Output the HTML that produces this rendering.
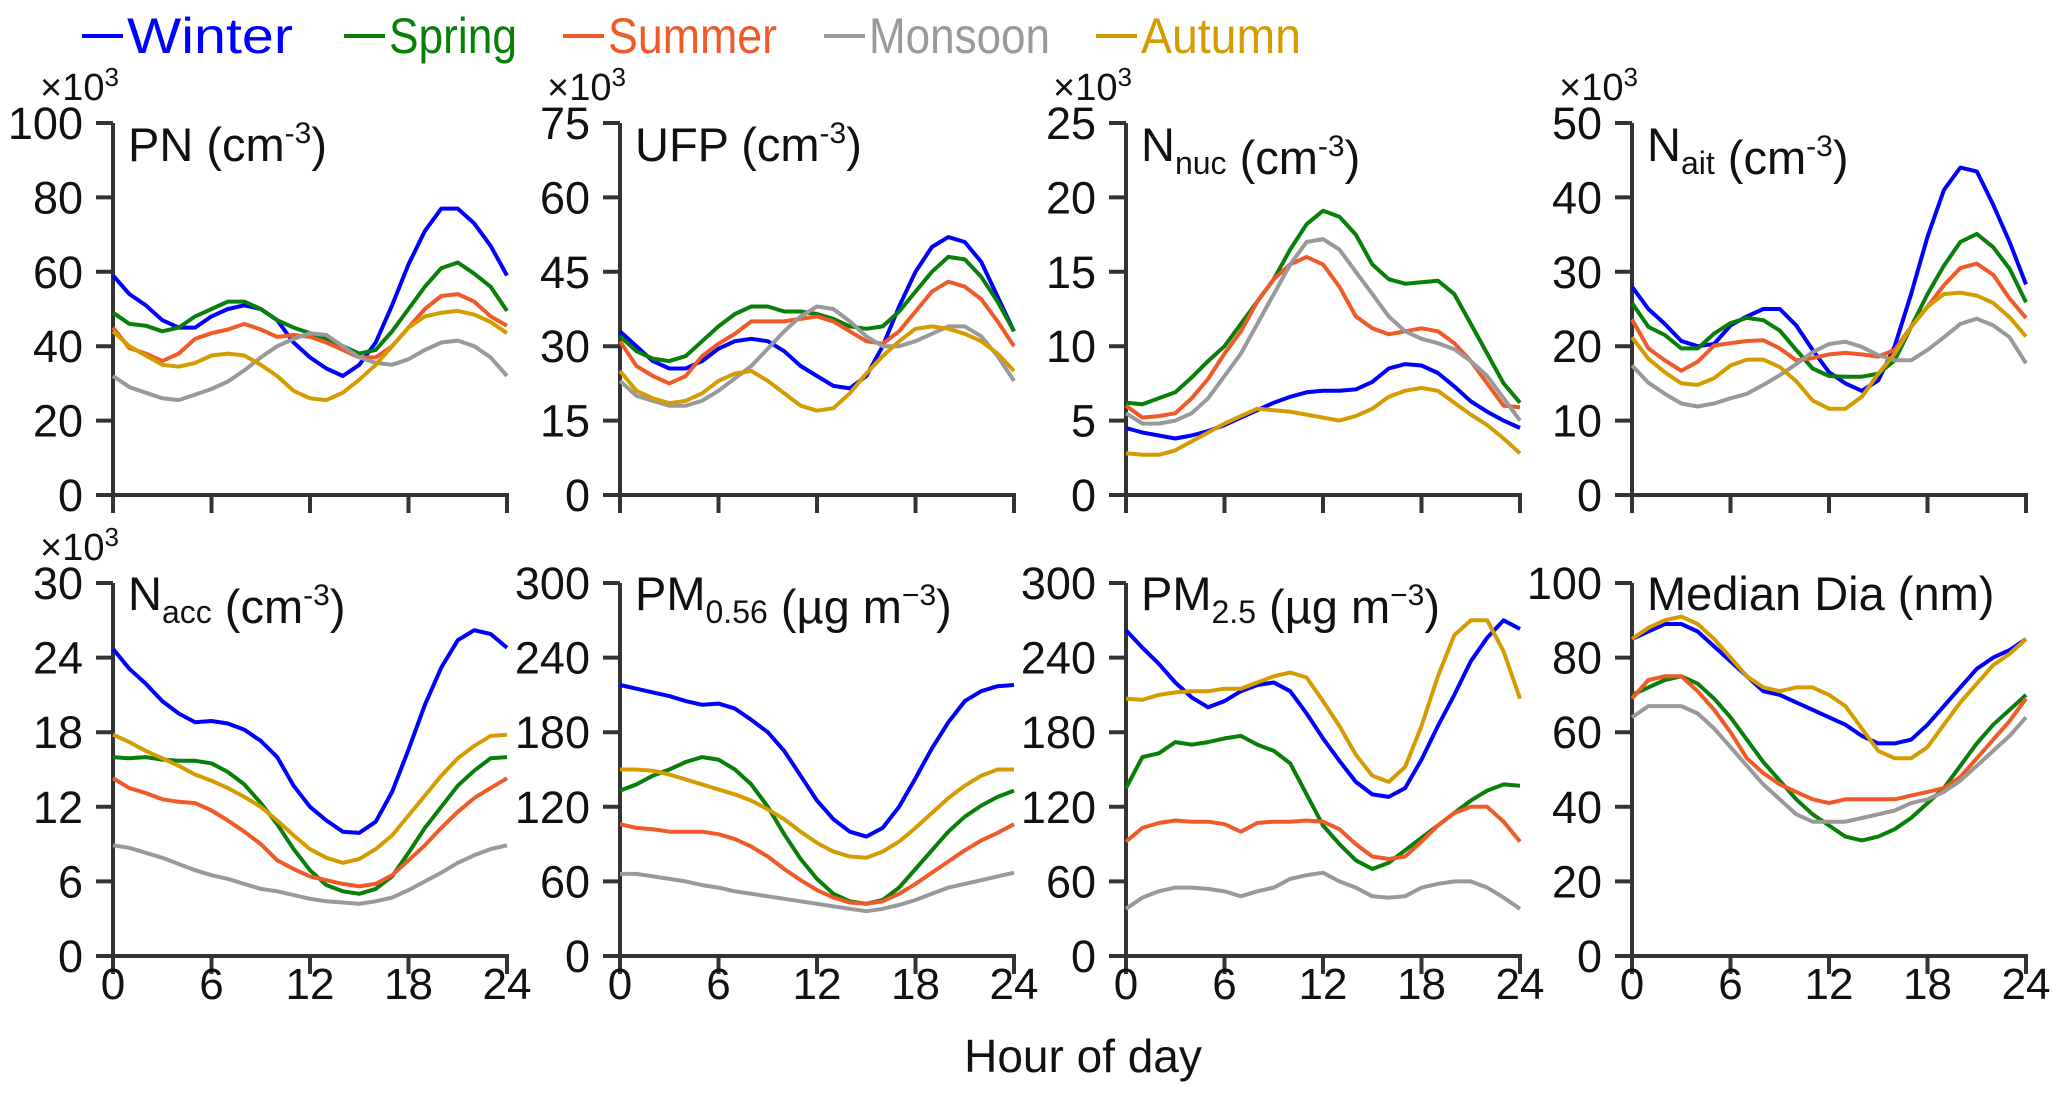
<!DOCTYPE html>
<html><head><meta charset="utf-8">
<style>
html,body{margin:0;padding:0;background:#fff;}
svg{display:block;font-family:"Liberation Sans",Arial,sans-serif;}
</style></head>
<body>
<svg id="chart" width="2067" height="1097" viewBox="0 0 2067 1097" xmlns="http://www.w3.org/2000/svg"></svg>
<script>
const hours = [0,1,2,3,4,5,6,7,8,9,10,11,12,13,14,15,16,17,18,19,20,21,22,23,24];
const seasons = ["Winter","Spring","Summer","Monsoon","Autumn"];
const seasonColors = ["#0000ff","#087f08","#f05a28","#999999","#d49c00"];
const xTicks = [0,6,12,18,24];

const pnWinter = [59,54,51,47,45,45,48,50,51,50,47,41,37,34,32,35,41,51,62,71,77,77,73,67,59];
const pnSpring = [49,46,45.5,44,45,48,50,52,52,50,47,45,43.5,42,40,38,39,44,50,56,61,62.5,59.5,56,49.5];
const pnSummer = [45,39.5,38,36,38,42,43.5,44.5,46,44.5,42.5,43,42.5,41,39,37,37,40,45,50,53.5,54,52,48,45.5];
const pnMonsoon = [32,29,27.5,26,25.5,27,28.5,30.5,33.5,37,40,42,43.5,43,40,37,35.5,35,36.5,39,41,41.5,40,37,32];
const pnAutumn = [44,40,37.5,35,34.5,35.5,37.5,38,37.5,35,32,28,26,25.5,27.5,31,35,40,45,48,49,49.5,48.5,46.5,43.5];

const ufpWinter = [33,30,27,25.5,25.5,27,29.5,31,31.5,31,29,26,24,22,21.5,24,30,38,45,50,52,51,47,40,33];
const ufpSpring = [32,29,27.5,27,28,31,34,36.5,38,38,37,37,36.5,35.5,34,33.5,34,37,41,45,48,47.5,44,39,33];
const ufpSummer = [31,26,24,22.5,24,28,30.5,32.5,35,35,35,35.5,36,35,33,31,30.5,33,37,41,43,42,39.5,35,30];
const ufpMonsoon = [23,20,19,18,18,19,21,23.5,26,29.5,33,36,38,37.5,35,32,30,30,31,32.5,34,34,32,28,23];
const ufpAutumn = [25,21,19.5,18.5,19,20.5,23,24.5,25,23,20.5,18,17,17.5,20.5,24.5,28,31,33.5,34,33.5,32.5,31,28.5,25];

const nucWinter = [4.5,4.2,4,3.8,4,4.3,4.7,5.2,5.7,6.2,6.6,6.9,7,7,7.1,7.6,8.5,8.8,8.7,8.2,7.3,6.3,5.6,5,4.5];
const nucSpring = [6.2,6.1,6.5,6.9,7.9,9,10,11.5,13,14.5,16.5,18.2,19.1,18.7,17.5,15.5,14.5,14.2,14.3,14.4,13.5,11.5,9.5,7.5,6.2];
const nucSummer = [6,5.2,5.3,5.5,6.5,7.8,9.5,11,13,14.5,15.5,16,15.5,14,12,11.2,10.8,11,11.2,11,10.2,9,7.5,6,5.9];
const nucMonsoon = [5.5,4.8,4.8,5,5.5,6.5,8,9.5,11.5,13.5,15.5,17,17.2,16.5,15,13.5,12,11,10.5,10.2,9.8,9,8,6.5,5];
const nucAutumn = [2.8,2.7,2.7,3,3.6,4.2,4.8,5.3,5.8,5.7,5.6,5.4,5.2,5,5.3,5.8,6.6,7,7.2,7,6.2,5.4,4.7,3.8,2.8];

const aitWinter = [28,25,23,20.7,20,20.3,22.8,24,25,25,22.8,19.5,16.5,15,14,15.4,20,27,34.7,41,44,43.5,39,34,28.3];
const aitSpring = [25.8,22.6,21.5,19.7,19.7,21.7,23.1,23.8,23.5,22.1,19.5,17,16,15.9,15.9,16.3,18.1,22.6,27,30.8,34,35.1,33.3,30.4,25.9];
const aitSummer = [23.6,19.7,18.1,16.7,17.9,20.1,20.4,20.7,20.8,19.7,18.1,18.4,18.9,19.1,18.9,18.6,19.5,22.6,25.3,28.2,30.5,31.1,29.6,26.4,23.8];
const aitMonsoon = [17.4,15.1,13.6,12.3,11.9,12.3,13,13.6,14.8,16.1,17.6,19.2,20.3,20.6,19.9,18.8,18.1,18.1,19.5,21.2,23,23.7,22.8,21.2,17.7];
const aitAutumn = [21.2,18.3,16.5,15,14.8,15.7,17.4,18.2,18.2,17.2,15.3,12.7,11.6,11.6,13.2,16.3,19,22.6,25.3,27,27.2,26.8,25.8,23.9,21.3];

const accWinter = [24.7,23.1,21.9,20.5,19.5,18.8,18.9,18.7,18.2,17.3,16,13.7,12,10.9,10,9.9,10.8,13.2,16.6,20.2,23.2,25.4,26.2,25.9,24.8];
const accSpring = [16,15.9,16,15.8,15.7,15.7,15.5,14.8,13.8,12.3,10.6,8.6,6.9,5.7,5.2,5,5.4,6.4,8.3,10.3,12,13.7,14.9,15.9,16];
const accSummer = [14.3,13.5,13.1,12.6,12.4,12.3,11.7,10.9,10,9,7.7,7,6.4,6.1,5.8,5.6,5.8,6.5,7.7,8.9,10.3,11.6,12.7,13.5,14.3];
const accMonsoon = [8.9,8.7,8.3,7.9,7.4,6.9,6.5,6.2,5.8,5.4,5.2,4.9,4.6,4.4,4.3,4.2,4.4,4.7,5.3,6,6.7,7.5,8.1,8.6,8.9];
const accAutumn = [17.8,17.2,16.5,15.9,15.3,14.6,14.1,13.5,12.8,12,10.9,9.7,8.6,7.9,7.5,7.8,8.6,9.7,11.3,12.9,14.5,15.9,16.9,17.7,17.8];

const pm056Winter = [218,215,212,209,205,202,203,199,190,180,165,145,125,110,100,96,103,120,143,167,188,205,213,217,218];
const pm056Spring = [133,138,145,150,156,160,158,150,138,120,98,78,62,50,44,42,45,55,70,85,100,112,121,128,133];
const pm056Summer = [106,103,102,100,100,100,98,94,88,80,70,61,53,47,43,42,44,50,58,67,76,85,93,99,106];
const pm056Monsoon = [66,66,64,62,60,57,55,52,50,48,46,44,42,40,38,36,38,41,45,50,55,58,61,64,67];
const pm056Autumn = [150,150,149,146,142,138,134,130,125,118,110,100,91,84,80,79,84,92,103,115,127,137,145,150,150];

const pm25Winter = [262,248,235,220,208,200,205,213,218,220,213,195,175,157,140,130,128,135,158,185,210,237,256,270,263];
const pm25Spring = [135,160,163,172,170,172,175,177,170,165,155,130,105,90,77,70,75,85,95,105,115,125,133,138,137];
const pm25Summer = [92,103,107,109,108,108,106,100,107,108,108,109,108,102,90,80,78,80,92,105,115,120,120,108,92];
const pm25Monsoon = [38,47,52,55,55,54,52,48,52,55,62,65,67,60,55,48,47,48,55,58,60,60,55,47,38];
const pm25Autumn = [207,206,210,212,213,213,215,215,220,225,228,224,205,185,162,145,140,152,185,225,258,270,270,245,207];

const diaWinter = [85,87,89,89,87,83,79,75,71,70,68,66,64,62,59,57,57,58,62,67,72,77,80,82,85];
const diaSpring = [70,72,74,75,73,69,64,58,52,47,42,38,35,32,31,32,34,37,41,45,51,57,62,66,70];
const diaSummer = [69,74,75,75,71,66,60,53,49,46,44,42,41,42,42,42,42,43,44,45,48,53,58,63,69];
const diaMonsoon = [64,67,67,67,65,61,56,51,46,42,38,36,36,36,37,38,39,41,42,44,47,51,55,59,64];
const diaAutumn = [85,88,90,91,89,85,80,75,72,71,72,72,70,67,61,55,53,53,56,62,68,73,78,81,85];

const yTicksPN = [0,20,40,60,80,100];
const yTicksUFP = [0,15,30,45,60,75];
const yTicksNuc = [0,5,10,15,20,25];
const yTicksAit = [0,10,20,30,40,50];
const yTicksAcc = [0,6,12,18,24,30];
const yTicksPM = [0,60,120,180,240,300];
const yTicksDia = [0,20,40,60,80,100];

const NS = "http://www.w3.org/2000/svg";
const svg = document.getElementById("chart");
function mk(tag, attrs, parent){
  const e = document.createElementNS(NS, tag);
  for (const k in attrs) e.setAttribute(k, attrs[k]);
  (parent||svg).appendChild(e);
  return e;
}

// legend
const legTextX = [127,389,608,869,1141];
const legTextW = [166,128,169,181,160];
seasons.forEach((s,i)=>{
  const g = mk("g",{});
  
  
  mk("line",{x1:legTextX[i]-45,y1:36,x2:legTextX[i]-4,y2:36,stroke:seasonColors[i],"stroke-width":4},g);
  const t = mk("text",{x:legTextX[i],y:53,"font-size":50,fill:seasonColors[i],textLength:legTextW[i],lengthAdjust:"spacingAndGlyphs"},g);
  t.textContent = s;
});

const panels = [
  {name:"pn", x:113, top:123, bot:495, ticks:yTicksPN, series:[pnWinter,pnSpring,pnSummer,pnMonsoon,pnAutumn], title:["PN ","","(cm","-3",")"], exp:true, xlabels:false},
  {name:"ufp", x:620, top:123, bot:495, ticks:yTicksUFP, series:[ufpWinter,ufpSpring,ufpSummer,ufpMonsoon,ufpAutumn], title:["UFP ","","(cm","-3",")"], exp:true, xlabels:false},
  {name:"nnuc", x:1126, top:123, bot:495, ticks:yTicksNuc, series:[nucWinter,nucSpring,nucSummer,nucMonsoon,nucAutumn], title:["N","nuc"," (cm","-3",")"], exp:true, xlabels:false},
  {name:"nait", x:1632, top:123, bot:495, ticks:yTicksAit, series:[aitWinter,aitSpring,aitSummer,aitMonsoon,aitAutumn], title:["N","ait"," (cm","-3",")"], exp:true, xlabels:false},
  {name:"nacc", x:113, top:583, bot:956, ticks:yTicksAcc, series:[accWinter,accSpring,accSummer,accMonsoon,accAutumn], title:["N","acc"," (cm","-3",")"], exp:true, xlabels:true},
  {name:"pm056", x:620, top:583, bot:956, ticks:yTicksPM, series:[pm056Winter,pm056Spring,pm056Summer,pm056Monsoon,pm056Autumn], title:["PM","0.56"," (µg m","−3",")"], exp:false, xlabels:true},
  {name:"pm25", x:1126, top:583, bot:956, ticks:yTicksPM, series:[pm25Winter,pm25Spring,pm25Summer,pm25Monsoon,pm25Autumn], title:["PM","2.5"," (µg m","−3",")"], exp:false, xlabels:true},
  {name:"median-dia", x:1632, top:583, bot:956, ticks:yTicksDia, series:[diaWinter,diaSpring,diaSummer,diaMonsoon,diaAutumn], title:["Median Dia (nm)","","","",""], exp:false, xlabels:true}
];
const W = 394;
const AX = "#333";

panels.forEach(p=>{
  const g = mk("g",{});
  
  
  const ymax = p.ticks[p.ticks.length-1];
  const xs = h => p.x + h/24*W;
  const ys = v => p.bot - v/ymax*(p.bot-p.top);
  const ya = mk("line",{x1:p.x,y1:p.top,x2:p.x,y2:p.bot+18,stroke:AX,"stroke-width":4},g);
  
  
  const xa = mk("line",{x1:p.x-17,y1:p.bot,x2:p.x+W+2,y2:p.bot,stroke:AX,"stroke-width":4},g);
  
  
  p.ticks.forEach(v=>{
    mk("line",{x1:p.x-17,y1:ys(v),x2:p.x,y2:ys(v),stroke:AX,"stroke-width":4},g);
    const t = mk("text",{x:p.x-30,y:ys(v)+16,"font-size":45,"text-anchor":"end",fill:"#111"},g);
    
    
    t.textContent = v;
  });
  xTicks.forEach(h=>{
    mk("line",{x1:xs(h),y1:p.bot,x2:xs(h),y2:p.bot+18,stroke:AX,"stroke-width":4},g);
    if (p.xlabels){
      const t = mk("text",{x:xs(h),y:999,"font-size":44,"text-anchor":"middle",fill:"#111"},g);
      
      
      t.textContent = h;
    }
  });
  if (p.exp){
    const t = mk("text",{x:p.x-73,y:p.top-23,"font-size":38,fill:"#111"},g);
    
    
    t.innerHTML = '×10<tspan dy="-14" font-size="26">3</tspan>';
  }
  const tb = p.top + (p.top<300 ? 38 : 27);
  const tt = mk("text",{x:p.x+15,y:tb,"font-size":47,fill:"#111"},g);
  
  
  const [a,sub,b,sup,c] = p.title;
  let html = a;
  if (sub) html += '<tspan dy="13" font-size="32">'+sub+'</tspan><tspan dy="-13"></tspan>';
  html += b;
  if (sup) html += '<tspan dy="-18" font-size="30">'+sup+'</tspan><tspan dy="18">'+c+'</tspan>';
  tt.innerHTML = html;
  p.series.forEach((arr,i)=>{
    const d = arr.map((v,k)=>(k?"L":"M")+xs(hours[k]).toFixed(1)+","+ys(v).toFixed(1)).join(" ");
    const path = mk("path",{d:d,fill:"none",stroke:seasonColors[i],"stroke-width":4,"stroke-linejoin":"round"},g);
    
    
  });
});

const xt = mk("text",{x:1083,y:1072,"font-size":46,"text-anchor":"middle",fill:"#111"});


xt.textContent = "Hour of day";
</script>
</body></html>
